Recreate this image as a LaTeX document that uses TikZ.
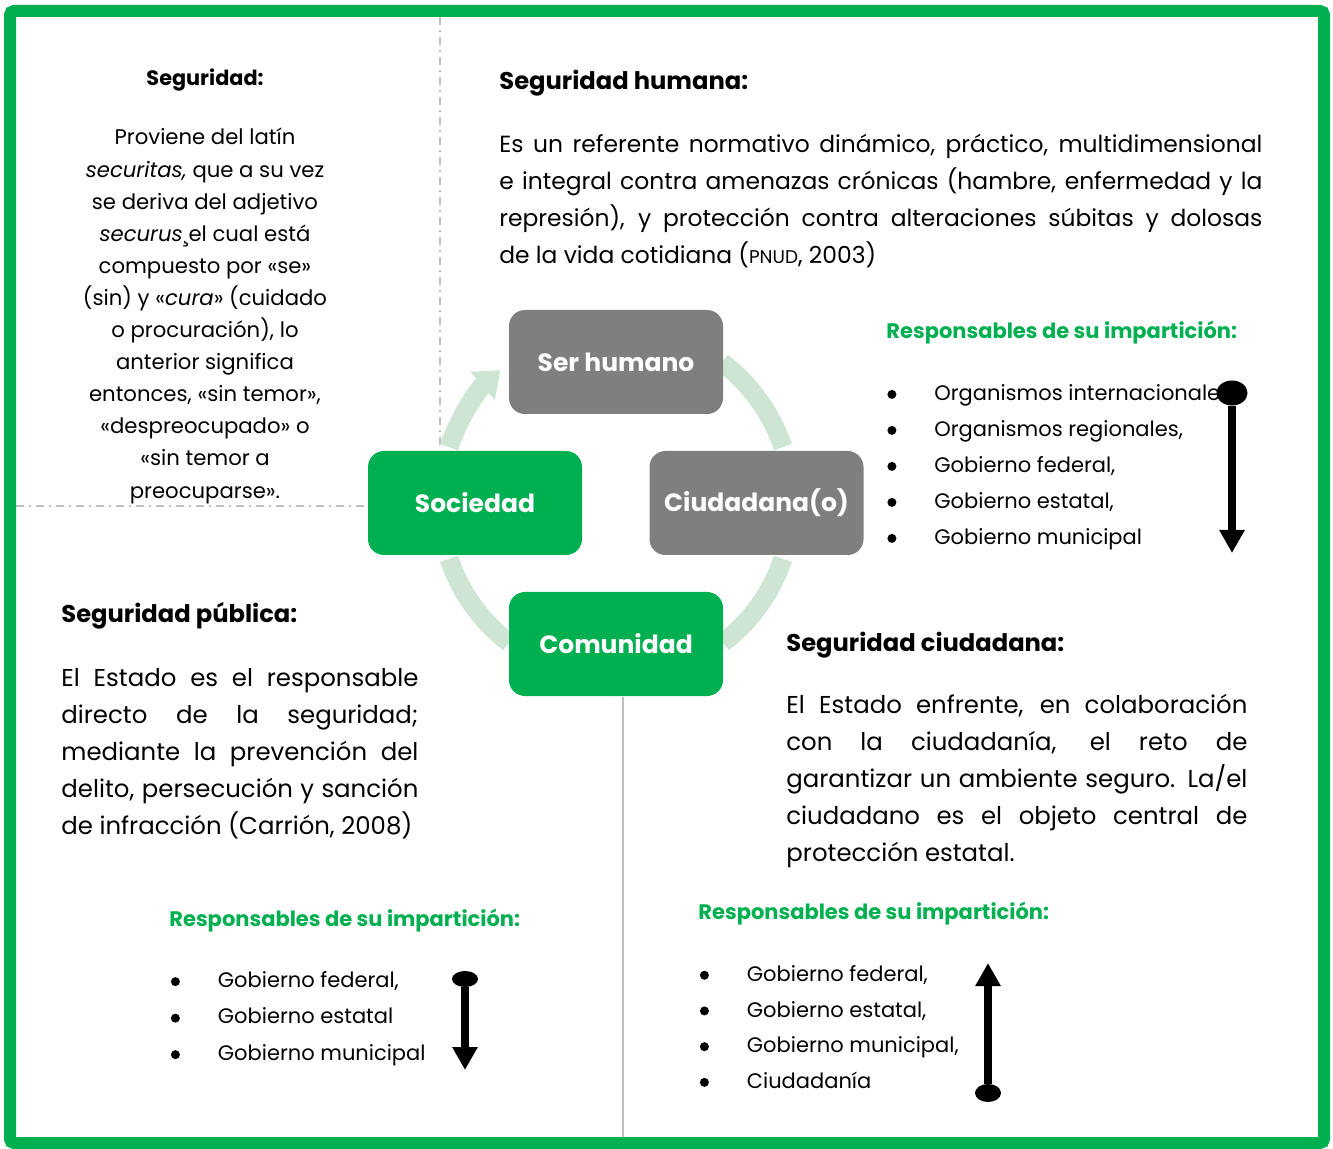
\documentclass[tikz,border=0pt]{standalone}
\usepackage{fontspec}
\setmainfont{Poppins}
\usepackage{tikz}
\usetikzlibrary{arrows.meta}
\usetikzlibrary{shapes.geometric}
\usetikzlibrary{matrix}
\usetikzlibrary{positioning}
\definecolor{framegreen}{HTML}{00B050}
\definecolor{boxgray}{HTML}{7F7F7F}
\definecolor{ringgreen}{HTML}{CDE5D2}
\definecolor{rulegray}{HTML}{BFBFBF}

\begin{document}
\begin{tikzpicture}[
    x=0.5pt, y=-0.5pt,
    cyclebox/.style={rectangle, rounded corners=8pt, minimum width=107pt,
      minimum height=52pt, inner sep=0pt, text=white,
      font=\fontsize{12.5}{15}\selectfont\bfseries},
    ring/.style={ringgreen, line width=9.5pt},
    heading/.style={anchor=west, inner sep=0pt,
      font=\fontsize{12.1}{14}\selectfont\bfseries},
    greenhead/.style={anchor=west, inner sep=0pt, text=framegreen,
      font=\fontsize{10.5}{12}\selectfont\bfseries},
    para/.style={anchor=north west, inner sep=0pt, align=justify,
      font=\fontsize{12.2}{18.5}\selectfont},
    divider/.style={rulegray, line width=1pt,
      dash pattern=on 4pt off 2.5pt on 1pt off 2.5pt},
    enddot/.style={ellipse, fill=black, inner sep=0pt},
    scalearrow/.style={line width=3.8pt, -{Triangle[width=12pt,length=11.5pt]}},
    listnodes/.style={anchor=west, inner sep=0pt, text height=12pt,
      text depth=6pt, font=\fontsize{10.5}{12}\selectfont},
    listdot/.style={circle, fill=black, minimum size=4.5pt,
      text height=0pt, text depth=0pt},
  ]
  \useasboundingbox (0,0) rectangle (1333,1149);

  % frame and dividers
  \draw[framegreen, line width=6pt, rounded corners=2pt] (10,11) rectangle (1324,1143);
  \draw[divider] (440,17) -- (440,445);
  \draw[divider] (16,506) -- (368,506);
  \draw[rulegray, line width=1pt] (623,697) -- (623,1137);

  % cycle
  \coordinate (hub) at (616,503);
  \draw[ring, -{Triangle[width=18pt,length=12pt]}]
    (hub) ++(198.5:176) arc[start angle=198.5, end angle=229, radius=176];
  \draw[ring] (hub) ++(307:176) arc[start angle=307, end angle=341.5, radius=176];
  \draw[ring] (hub) ++(18.5:176) arc[start angle=18.5, end angle=52.6, radius=176];
  \draw[ring] (hub) ++(127.4:176) arc[start angle=127.4, end angle=161.5, radius=176];

  \node (ser) [cyclebox, fill=boxgray]    at (616,362)   {Ser humano};
  \node (soc) [cyclebox, fill=framegreen] at (475,503)   {Sociedad};
  \node (ciu) [cyclebox, fill=boxgray]    at (756.5,503) {Ciudadana(o)};
  \node (com) [cyclebox, fill=framegreen] at (616,644)   {Comunidad};

  % Seguridad
  \node (segt) [inner sep=0pt, font=\fontsize{10.4}{12}\selectfont\bfseries]
    at (205,80) {Seguridad:};
  \node (segd) [anchor=north, inner sep=0pt, align=center,
    font=\fontsize{10.6}{16.05}\selectfont] at (205,128) {%
    Proviene del latín\\
    \textit{securitas,} que a su vez\\
    se deriva del adjetivo\\
    \textit{securus}¸el cual está\\
    compuesto por «se»\\
    (sin) y «\textit{cura}» (cuidado\\
    o procuración), lo\\
    anterior significa\\
    entonces, «sin temor»,\\
    «despreocupado» o\\
    «sin temor a\\
    preocuparse».};

  % Seguridad humana
  \node (humt) [heading] at (499,83) {Seguridad humana:};
  \node (humd) [para, text width=381.5pt, font=\fontsize{11.7}{18.5}\selectfont]
    at (499,134) {%
    Es un referente normativo dinámico, práctico, multidimensional\linebreak
    e integral contra amenazas crónicas (hambre, enfermedad y la\linebreak
    represión), y protección contra alteraciones súbitas y dolosas\linebreak
    de la vida cotidiana ({\fontsize{9.2}{10}\selectfont PNUD}, 2003)};

  \node (humr) [greenhead] at (886,333) {Responsables de su impartición:};
  \matrix (listH) [matrix of nodes, anchor=north west, inner sep=0pt,
    column sep=19pt, nodes={listnodes}] at (887,376) {
    |[listdot]| {} & Organismos internacionales, \\
    |[listdot]| {} & Organismos regionales, \\
    |[listdot]| {} & Gobierno federal, \\
    |[listdot]| {} & Gobierno estatal, \\
    |[listdot]| {} & Gobierno municipal \\
  };
  \node (dotH) [enddot, minimum width=15.5pt, minimum height=12.5pt] at (1232,393) {};
  \coordinate (tipH) at (1232,553);
  \draw[scalearrow] (dotH) -- (tipH);

  % Seguridad publica
  \node (pubt) [heading] at (61,616) {Seguridad pública:};
  \node (pubd) [para, text width=178.5pt] at (61,668) {%
    El Estado es el responsable\linebreak
    directo de la seguridad;\linebreak
    mediante la prevención del\linebreak
    delito, persecución y sanción\linebreak
    de infracción (Carrión, 2008)};

  \node (pubr) [greenhead] at (169,921) {Responsables de su impartición:};
  \matrix (listP) [matrix of nodes, anchor=north west, inner sep=0pt,
    column sep=19pt, nodes={listnodes, text depth=6.25pt}] at (170.5,963) {
    |[listdot]| {} & Gobierno federal, \\
    |[listdot]| {} & Gobierno estatal \\
    |[listdot]| {} & Gobierno municipal \\
  };
  \node (dotP) [enddot, minimum width=13pt, minimum height=8pt] at (465,979) {};
  \coordinate (tipP) at (465,1070);
  \draw[scalearrow] (dotP) -- (tipP);

  % Seguridad ciudadana
  \node (ciut) [heading] at (786,645) {Seguridad ciudadana:};
  \node (ciud) [para, text width=230.5pt] at (786,694) {%
    El Estado enfrente, en colaboración\linebreak
    con la ciudadanía, el reto de\linebreak
    garantizar un ambiente seguro. La/el\linebreak
    ciudadano es el objeto central de\linebreak
    protección estatal.};

  \node (ciur) [greenhead] at (698,914) {Responsables de su impartición:};
  \matrix (listC) [matrix of nodes, anchor=north west, inner sep=0pt,
    column sep=19pt, nodes={listnodes, text depth=5.85pt}] at (699.5,957) {
    |[listdot]| {} & Gobierno federal, \\
    |[listdot]| {} & Gobierno estatal, \\
    |[listdot]| {} & Gobierno municipal, \\
    |[listdot]| {} & Ciudadanía \\
  };
  \node (dotC) [enddot, minimum width=13pt, minimum height=9pt] at (988,1093) {};
  \coordinate (tipC) at (988,963);
  \draw[scalearrow] (dotC) -- (tipC);

\end{tikzpicture}
\end{document}
